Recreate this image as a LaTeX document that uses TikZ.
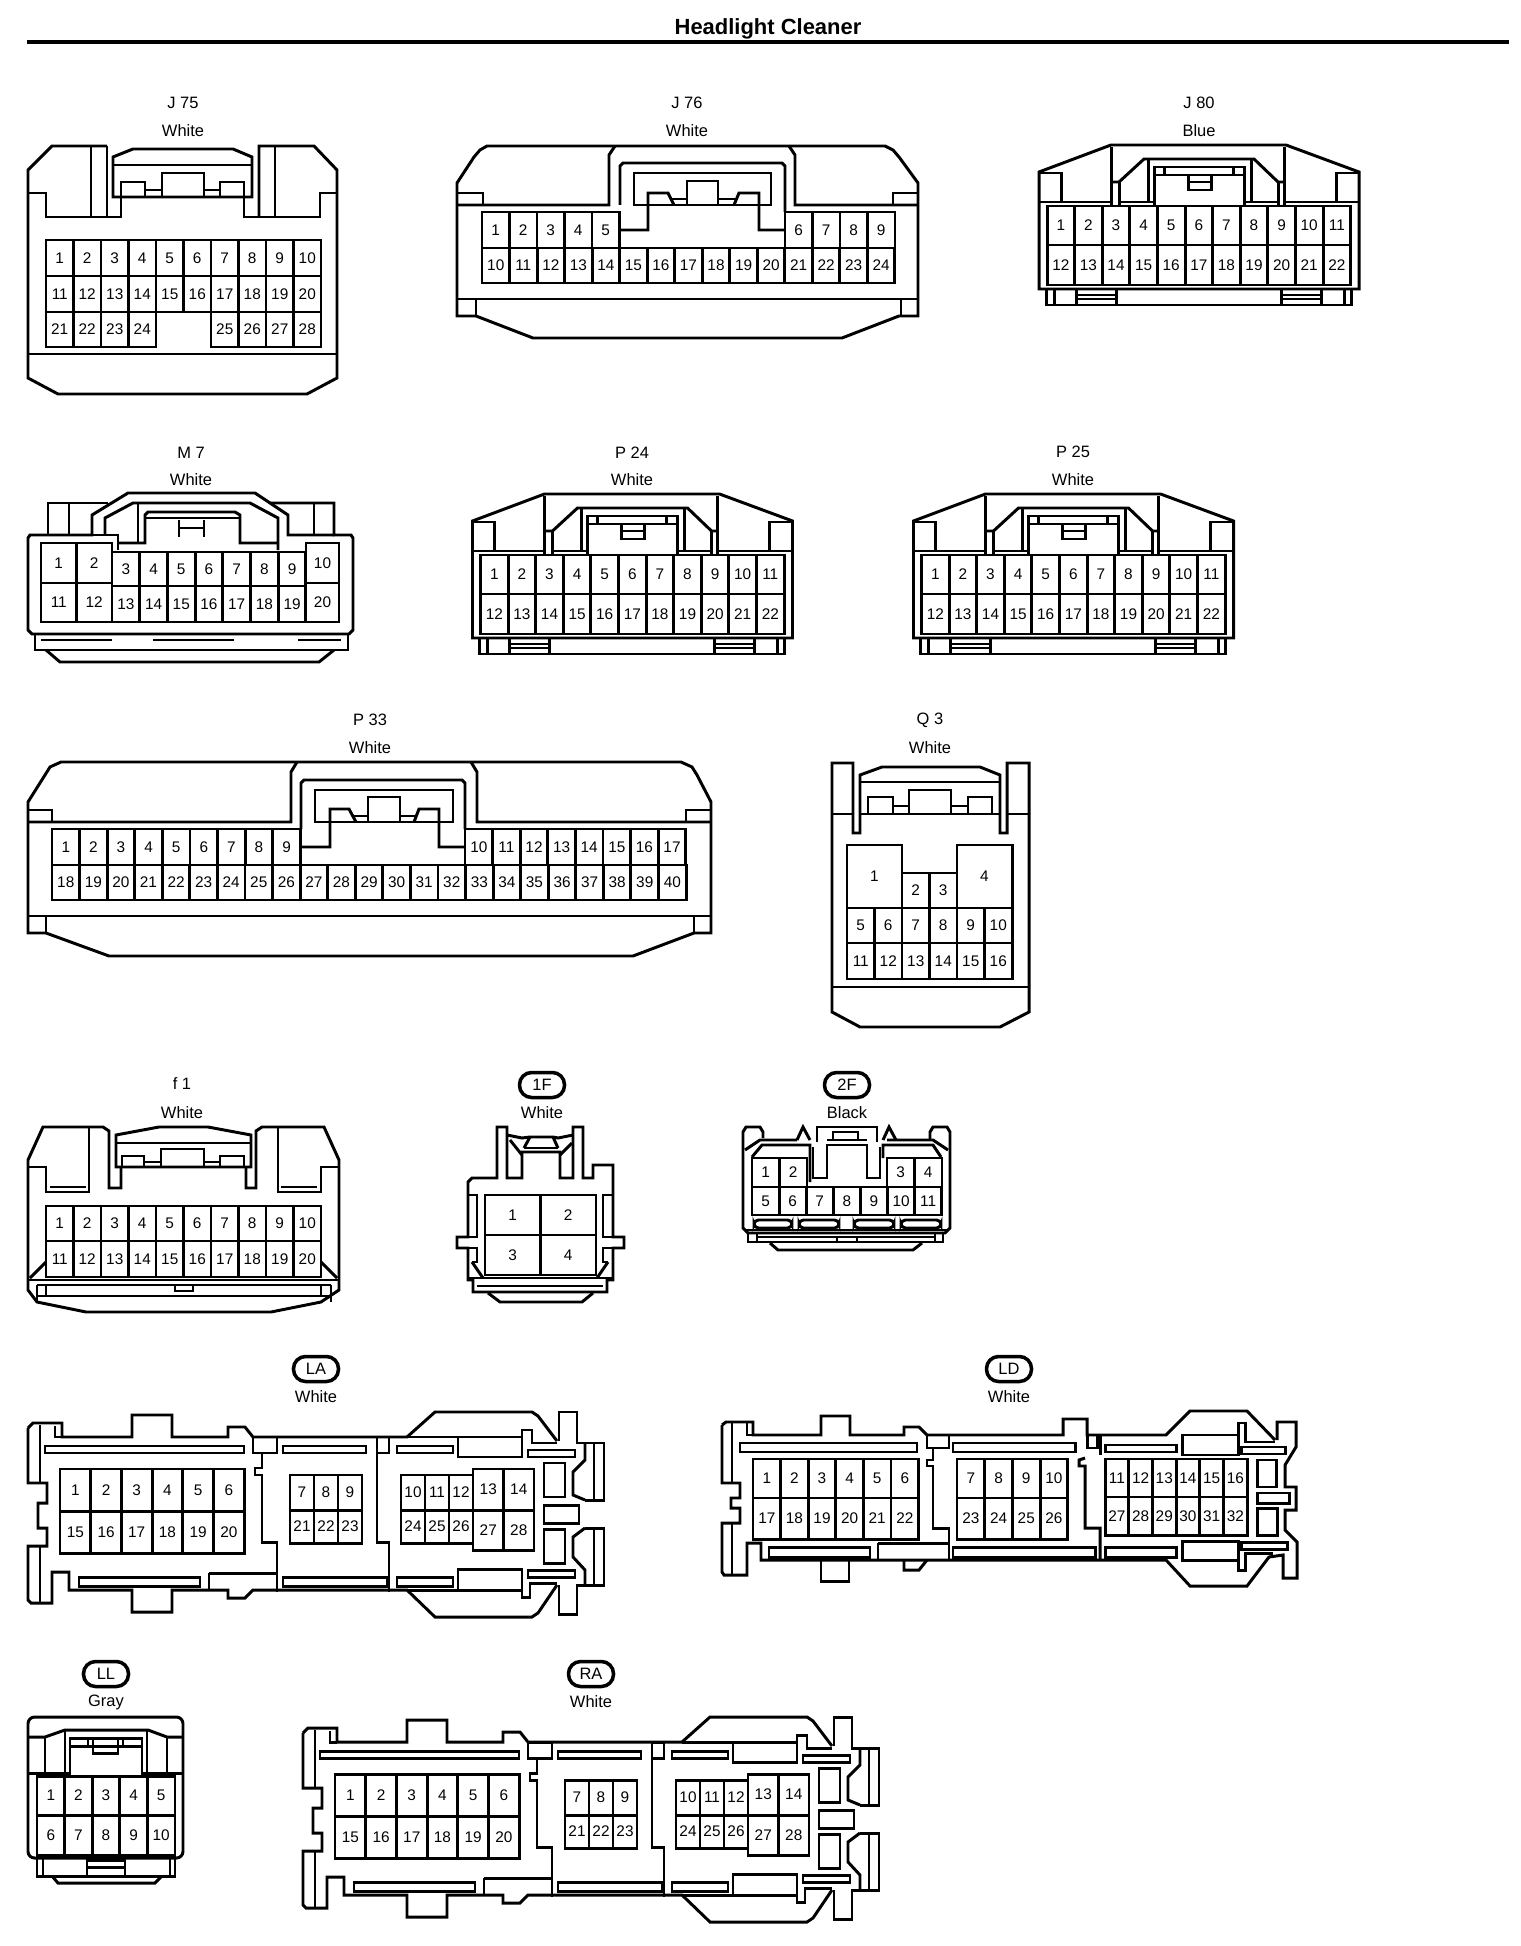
\documentclass[tikz,border=0pt]{standalone}
\usepackage{fontspec}
\setmainfont{Liberation Sans}
\tikzset{
	wall/.style={line width=1.35pt, line join=miter},
	cavity/.style 2 args={draw, line width=1.35pt, inner sep=0pt, font=\fontsize{7}{8}\selectfont,
		minimum width=#1*0.016cm, minimum height=#2*0.016cm},
	tagtext/.style={inner sep=0pt, font=\fontsize{7.5}{9}\selectfont},
	tagoval/.style={draw, line width=1.6pt, rounded corners=5.5pt, inner sep=0pt, font=\fontsize{7.5}{9}\selectfont,
		minimum width=45*0.016cm, minimum height=25*0.016cm}
}
% one row of cavities: prefix, left, top, cell width, cell height, numbers
\newcommand{\cavrow}[6]{
	\foreach \n [count=\i from 0] in {#6} {
		\node[cavity={#4}{#5}] (#1-\n) at ({#2+(\i+0.5)*#4}, {#3+#5/2}) {\n};
	}
}
% the 22 way housing, used three times
\newcommand{\housingwide}[3]{
	\begin{scope}[shift={(#2,#3)}]
		\draw[wall] (0,144) -- (0,27) -- (72,0) -- (247,0) -- (320,27) -- (320,144) -- cycle;
		\draw[wall] (7,144) -- (7,160) -- (312,160) -- (312,144);
		\draw[wall] (15,144) -- (15,160);
		\draw[wall] (305,144) -- (305,160);
		\draw[wall] (37,144) -- (37,160);
		\draw[wall] (77,144) -- (77,160);
		\draw[wall] (37,150) -- (77,150);
		\draw[wall] (37,154) -- (77,154);
		\draw[wall] (242,144) -- (242,160);
		\draw[wall] (282,144) -- (282,160);
		\draw[wall] (242,150) -- (282,150);
		\draw[wall] (242,154) -- (282,154);
		\draw[wall] (0,57) -- (72,57) -- (72,2);
		\draw[wall] (0,28) -- (22,28) -- (22,57);
		\draw[wall] (320,57) -- (245,57) -- (245,2);
		\draw[wall] (320,28) -- (297,28) -- (297,57);
		\draw[wall] (72,37) -- (80,37) -- (105,14) -- (215,14) -- (239,37) -- (245,37);
		\draw[wall] (72,57) -- (72,61);
		\draw[wall] (245,57) -- (245,61);
		\draw[wall] (80,37) -- (80,61);
		\draw[wall] (239,37) -- (239,61);
		\draw[wall] (80,57) -- (115,57);
		\draw[wall] (205,57) -- (239,57);
		\draw[wall] (109,14) -- (109,57);
		\draw[wall] (212,14) -- (212,57);
		\draw[wall] (115,61) -- (115,22) -- (205,22) -- (205,61);
		\draw[wall] (115,30) -- (205,30);
		\draw[wall] (125,22) -- (125,30);
		\draw[wall] (194,22) -- (194,30);
		\draw[wall] (149,30) -- (149,45) -- (172,45) -- (172,30);
		\draw[wall] (149,37) -- (172,37);
		\cavrow{#1}{8}{61}{27.6}{39}{1,...,11}
		\cavrow{#1}{8}{100}{27.6}{40}{12,...,22}
	\end{scope}
}
% the 28 way housing, used twice
\newcommand{\housingtee}[3]{
	\begin{scope}[shift={(#2,#3)}]
		\draw[wall] (28,1428) -- (33,1423) -- (62,1423) -- (62,1437) -- (132,1437) -- (132,1415) -- (172,1415) -- (172,1437) -- (228,1437) -- (228,1427) -- (245,1427) -- (253,1437) -- (407,1437) -- (435,1412) -- (532,1412) -- (538,1416) -- (557,1441);
		\draw[wall] (62,1437) -- (55,1437) -- (55,1426);
		\draw[wall] (28,1428) -- (28,1483) -- (47,1483) -- (47,1503) -- (38,1503) -- (38,1528) -- (47,1528) -- (47,1546) -- (28,1546) -- (28,1600) -- (31,1603) -- (52,1603) -- (52,1572) -- (69,1572) -- (69,1590) -- (132,1590) -- (132,1612) -- (172,1612) -- (172,1590) -- (228,1590) -- (228,1598) -- (245,1598) -- (253,1590) -- (407,1590) -- (435,1617) -- (532,1617) -- (538,1613) -- (557,1585);
		\draw[wall] (40,1425) -- (40,1483);
		\draw[wall] (40,1546) -- (40,1603);
		\draw[wall] (407,1437) -- (522,1437);
		\draw[wall] (407,1590) -- (522,1590);
		\draw[wall] (559,1585) -- (559,1614) -- (577,1614) -- (577,1585) -- (604,1585) -- (604,1528) -- (585,1528);
		\draw[wall] (559,1441) -- (559,1412) -- (577,1412) -- (577,1443) -- (604,1443) -- (604,1500) -- (585,1500);
		\draw[wall] (585,1500) -- (573,1495) -- (573,1472) -- (585,1460) -- (585,1443);
		\draw[wall] (585,1528) -- (573,1537) -- (573,1557) -- (585,1570) -- (585,1585);
		\draw[wall] (594,1443) -- (594,1500);
		\draw[wall] (594,1528) -- (594,1585);
		\draw[wall] (544,1463) rectangle (565,1497);
		\draw[wall] (544,1505) rectangle (579,1523);
		\draw[wall] (544,1529) rectangle (565,1563);
		\draw[wall] (45,1446) rectangle (244,1453);
		\draw[wall] (283,1446) rectangle (366,1453);
		\draw[wall] (397,1446) rectangle (453,1453);
		\draw[wall] (528,1450) rectangle (575,1457);
		\draw[wall] (79,1577) rectangle (200,1586);
		\draw[wall] (283,1577) rectangle (387,1586);
		\draw[wall] (397,1577) rectangle (453,1586);
		\draw[wall] (528,1570) rectangle (575,1577);
		\draw[wall] (458,1437) rectangle (522,1457);
		\draw[wall] (458,1569) rectangle (522,1590);
		\draw[wall] (522,1437) -- (522,1430) -- (532,1430) -- (532,1443) -- (557,1443);
		\draw[wall] (522,1590) -- (522,1597) -- (530,1597) -- (530,1583) -- (557,1583);
		\draw[wall] (253,1437) rectangle (277,1453);
		\draw[wall] (262,1453) -- (262,1468) -- (255,1468) -- (255,1475) -- (262,1475) -- (262,1542) -- (277,1542) -- (277,1592);
		\draw[wall] (377,1437) rectangle (389,1453);
		\draw[wall] (377,1453) -- (377,1542) -- (389,1542) -- (389,1592);
		\draw[wall] (209,1573) -- (277,1573);
		\draw[wall] (209,1573) -- (209,1590);
		\cavrow{#1}{60}{1469}{30.7}{42}{1,...,6}
		\cavrow{#1}{60}{1511}{30.7}{42}{15,...,20}
		\cavrow{#1}{290}{1475}{24}{35}{7,8,9}
		\cavrow{#1}{290}{1510}{24}{33}{21,22,23}
		\cavrow{#1}{401}{1475}{24}{35}{10,11,12}
		\cavrow{#1}{401}{1510}{24}{33}{24,25,26}
		\cavrow{#1}{473}{1469}{30.5}{41}{13,14}
		\cavrow{#1}{473}{1510}{30.5}{40}{27,28}
	\end{scope}
}
\begin{document}
\begin{tikzpicture}[x=0.016cm, y=-0.016cm]
	\useasboundingbox (0,0) rectangle (1520,1946);

	\node[inner sep=0pt, font=\fontsize{10}{12}\selectfont\bfseries] (sheettitle) at (768,29) {Headlight Cleaner};
	\draw[line width=2.2pt] (27,42) -- (1509,42);

	% J 75
	\node[tagtext] (j75id) at (183,103) {J 75};
	\node[tagtext] (j75col) at (183,131) {White};
	\draw[wall] (107,146) -- (52,146) -- (28,170) -- (28,378) -- (58,394) -- (307,394) -- (337,378) -- (337,170) -- (314,146) -- (259,146) -- (259,217);
	\draw[wall] (28,193) -- (46,193) -- (46,217) -- (121,217) -- (121,197);
	\draw[wall] (91,146) -- (91,217);
	\draw[wall] (107,146) -- (107,217);
	\draw[wall] (337,193) -- (320,193) -- (320,217) -- (244,217) -- (244,197);
	\draw[wall] (275,146) -- (275,217);
	\draw[wall] (113,197) -- (113,157) -- (133,149) -- (233,149) -- (252,157) -- (252,197) -- cycle;
	\draw[wall] (113,165) -- (252,165);
	\draw[wall] (121,197) -- (121,182) -- (145,182) -- (145,197);
	\draw[wall] (162,197) -- (162,173) -- (204,173) -- (204,197);
	\draw[wall] (220,197) -- (220,182) -- (244,182) -- (244,197);
	\draw[wall] (145,190) -- (162,190);
	\draw[wall] (204,190) -- (220,190);
	\draw[wall] (28,354) -- (337,354);
	\cavrow{J75}{46}{240}{27.5}{36}{1,...,10}
	\cavrow{J75}{46}{276}{27.5}{36}{11,...,20}
	\cavrow{J75}{46}{312}{27.5}{35}{21,...,24}
	\cavrow{J75}{211}{312}{27.5}{35}{25,...,28}

	% J 76
	\node[tagtext] (j76id) at (687,103) {J 76};
	\node[tagtext] (j76col) at (687,131) {White};
	\draw[wall] (457,316) -- (457,183) -- (474,157) -- (480,150) -- (487,146) -- (885,146) -- (893,150) -- (899,157) -- (918,183) -- (918,316) -- (899,316) -- (842,338) -- (533,338) -- (476,316) -- cycle;
	\draw[wall] (457,205) -- (609,205) -- (609,155) -- (615,146);
	\draw[wall] (918,205) -- (795,205) -- (795,155) -- (789,146);
	\draw[wall] (620,205) -- (620,166) -- (623,163) -- (782,163) -- (785,166) -- (785,212);
	\draw[wall] (634,173) rectangle (771,205);
	\draw[wall] (620,230) -- (648,230) -- (648,193) -- (668,193) -- (674,205);
	\draw[wall] (785,230) -- (759,230) -- (759,193) -- (739,193) -- (734,205);
	\draw[wall] (687,205) -- (687,181) -- (718,181) -- (718,205);
	\draw[wall] (671,199) -- (687,199);
	\draw[wall] (718,199) -- (737,199);
	\draw[wall] (457,193) -- (483,193) -- (483,205);
	\draw[wall] (918,193) -- (893,193) -- (893,205);
	\draw[wall] (457,299) -- (918,299);
	\draw[wall] (476,299) -- (476,316);
	\draw[wall] (901,299) -- (901,316);
	\cavrow{J76}{482}{212}{27.5}{36}{1,...,5}
	\cavrow{J76}{785}{212}{27.5}{36}{6,...,9}
	\cavrow{J76}{482}{248}{27.53}{35}{10,...,24}

	% J 80
	\node[tagtext] (j80id) at (1199,103) {J 80};
	\node[tagtext] (j80col) at (1199,131) {Blue};
	\housingwide{J80}{1039}{145}

	% M 7
	\node[tagtext] (m7id) at (191,453) {M 7};
	\node[tagtext] (m7col) at (191,480) {White};
	\draw[wall] (48,535) -- (30,535) -- (28,538) -- (28,630) -- (32,634) -- (349,634) -- (353,630) -- (353,538) -- (351,535) -- (334,535) -- (334,503) -- (270,503);
	\draw[wall] (48,535) -- (48,503) -- (108,503);
	\draw[wall] (69,503) -- (69,535);
	\draw[wall] (314,503) -- (314,535);
	\draw[wall] (48,535) -- (92,535) -- (92,515) -- (128,493) -- (255,493) -- (288,515) -- (288,535) -- (334,535);
	\draw[wall] (105,535) -- (105,518) -- (133,503) -- (250,503) -- (278,518) -- (278,550);
	\draw[wall] (92,535) -- (118,535) -- (118,550);
	\draw[wall] (138,503) -- (138,543);
	\draw[wall] (118,543) -- (145,543) -- (145,515) -- (148,512) -- (235,512) -- (240,515) -- (240,543) -- (278,543);
	\draw[wall] (145,518) -- (240,518);
	\draw[wall] (179,537) -- (179,520);
	\draw[wall] (204,537) -- (204,520);
	\draw[wall] (179,528) -- (204,528);
	\draw[wall] (35,634) -- (35,650) -- (348,650) -- (348,634);
	\draw[wall] (41,640) -- (112,640);
	\draw[wall] (153,640) -- (234,640);
	\draw[wall] (298,640) -- (341,640);
	\draw[wall] (46,650) -- (60,662) -- (319,662) -- (334,650);
	\cavrow{M7}{41}{543}{35.5}{40}{1,2}
	\cavrow{M7}{41}{583}{35.5}{39}{11,12}
	\cavrow{M7}{112}{552}{27.7}{34}{3,...,9}
	\cavrow{M7}{112}{586}{27.7}{36}{13,...,19}
	\cavrow{M7}{306}{543}{33}{40}{10}
	\cavrow{M7}{306}{583}{33}{39}{20}

	% P 24, P 25
	\node[tagtext] (p24id) at (632,453) {P 24};
	\node[tagtext] (p24col) at (632,480) {White};
	\housingwide{P24}{472.5}{494}
	\node[tagtext] (p25id) at (1073,452) {P 25};
	\node[tagtext] (p25col) at (1073,480) {White};
	\housingwide{P25}{913.5}{494}

	% P 33
	\node[tagtext] (p33id) at (370,720) {P 33};
	\node[tagtext] (p33col) at (370,748) {White};
	\draw[wall] (28,802) -- (45,775) -- (50,767) -- (61,762) -- (681,762) -- (692,767) -- (697,775) -- (711,802) -- (711,933) -- (694,933) -- (633,956) -- (109,956) -- (46,933) -- (28,933) -- cycle;
	\draw[wall] (28,822) -- (291,822) -- (291,772) -- (297,762);
	\draw[wall] (711,822) -- (477,822) -- (477,772) -- (471,762);
	\draw[wall] (28,810) -- (52,810) -- (52,822);
	\draw[wall] (711,810) -- (686,810) -- (686,822);
	\draw[wall] (28,916) -- (711,916);
	\draw[wall] (46,916) -- (46,933);
	\draw[wall] (694,916) -- (694,933);
	\draw[wall] (301,829) -- (301,783) -- (304,780) -- (462,780) -- (465,783) -- (465,829);
	\draw[wall] (315,790) rectangle (453,822);
	\draw[wall] (368,822) -- (368,797) -- (400,797) -- (400,822);
	\draw[wall] (301,847) -- (330,847) -- (330,809) -- (349,809) -- (356,822);
	\draw[wall] (465,847) -- (439,847) -- (439,809) -- (419,809) -- (414,822);
	\draw[wall] (352,816) -- (368,816);
	\draw[wall] (400,816) -- (416,816);
	\cavrow{P33}{52}{829}{27.6}{36}{1,...,9}
	\cavrow{P33}{465}{829}{27.6}{36}{10,...,17}
	\cavrow{P33}{52}{865}{27.57}{35}{18,...,40}

	% Q 3
	\node[tagtext] (q3id) at (930,720) {Q 3};
	\node[tagtext] (q3col) at (930,748) {White};
	\draw[wall] (832,1012) -- (832,763) -- (853,763) -- (853,833) -- (860,833) -- (860,775) -- (882,767) -- (980,767) -- (1000,775) -- (1000,833) -- (1007,833) -- (1007,763) -- (1029,763) -- (1029,1012) -- (1000,1027) -- (860,1027) -- cycle;
	\draw[wall] (832,814) -- (853,814);
	\draw[wall] (860,814) -- (1000,814);
	\draw[wall] (1007,814) -- (1029,814);
	\draw[wall] (860,782) -- (1000,782);
	\draw[wall] (868,814) -- (868,797) -- (893,797) -- (893,814);
	\draw[wall] (909,814) -- (909,790) -- (951,790) -- (951,814);
	\draw[wall] (968,814) -- (968,797) -- (992,797) -- (992,814);
	\draw[wall] (893,806) -- (909,806);
	\draw[wall] (951,806) -- (968,806);
	\draw[wall] (832,987) -- (1029,987);
	\cavrow{Q3}{847}{845}{55}{63}{1}
	\cavrow{Q3}{902}{873}{27.5}{35}{2,3}
	\cavrow{Q3}{957}{845}{55}{63}{4}
	\cavrow{Q3}{847}{908}{27.5}{35}{5,...,10}
	\cavrow{Q3}{847}{943}{27.5}{36}{11,...,16}

	% f 1
	\node[tagtext] (f1id) at (182,1084) {f 1};
	\node[tagtext] (f1col) at (182,1113) {White};
	\draw[wall] (89,1127) -- (43,1127) -- (28,1160) -- (28,1290) -- (37,1302) -- (86,1312) -- (271,1312) -- (321,1302) -- (339,1290) -- (339,1160) -- (324,1127) -- (262,1127) -- (256,1131) -- (256,1188) -- (246,1188) -- (246,1167);
	\draw[wall] (89,1127) -- (103,1127) -- (109,1131) -- (109,1188) -- (121,1188) -- (121,1167);
	\draw[wall] (28,1167) -- (46,1167) -- (46,1192) -- (89,1192) -- (89,1127);
	\draw[wall] (339,1167) -- (321,1167) -- (321,1192) -- (278,1192) -- (278,1127);
	\draw[wall] (50,1187) -- (86,1187);
	\draw[wall] (281,1187) -- (317,1187);
	\draw[wall] (116,1167) -- (116,1135) -- (159,1127) -- (208,1127) -- (251,1135) -- (251,1167) -- cycle;
	\draw[wall] (116,1143) -- (251,1143);
	\draw[wall] (122,1167) -- (122,1156) -- (144,1156) -- (144,1167);
	\draw[wall] (161,1167) -- (161,1149) -- (204,1149) -- (204,1167);
	\draw[wall] (220,1167) -- (220,1156) -- (244,1156) -- (244,1167);
	\draw[wall] (144,1162) -- (161,1162);
	\draw[wall] (204,1162) -- (220,1162);
	\draw[wall] (28,1280) -- (339,1280);
	\draw[wall] (37,1285) -- (331,1285);
	\draw[wall] (37,1296) -- (331,1296);
	\draw[wall] (37,1285) -- (37,1302);
	\draw[wall] (46,1285) -- (46,1296);
	\draw[wall] (321,1285) -- (321,1296);
	\draw[wall] (331,1285) -- (331,1302);
	\draw[wall] (30,1278) -- (46,1262);
	\draw[wall] (337,1278) -- (321,1262);
	\draw[wall] (175,1285) -- (175,1291) -- (193,1291) -- (193,1285);
	\cavrow{f1}{46}{1206}{27.5}{35}{1,...,10}
	\cavrow{f1}{46}{1241}{27.5}{36}{11,...,20}

	% 1F
	\node[tagoval] (oneFid) at (542,1085) {1F};
	\node[tagtext] (oneFcol) at (542,1113) {White};
	\draw[wall] (497,1178) -- (472,1178) -- (468,1182) -- (468,1237) -- (457,1237) -- (457,1248) -- (468,1248) -- (468,1280) -- (473,1280) -- (473,1292) -- (607,1292) -- (607,1280) -- (613,1280) -- (613,1248) -- (624,1248) -- (624,1237) -- (613,1237) -- (613,1165) -- (593,1165) -- (593,1178) -- (583,1178) -- (583,1127) -- (573,1127) -- (573,1178) -- (560,1178) -- (560,1152) -- (522,1152) -- (522,1178) -- (507,1178) -- (507,1127) -- (497,1127) -- cycle;
	\draw[wall] (507,1135) -- (522,1138) -- (530,1137) -- (553,1137) -- (558,1138) -- (573,1135);
	\draw[wall] (524,1148) -- (558,1148);
	\draw[wall] (530,1137) -- (524,1148);
	\draw[wall] (553,1137) -- (558,1148);
	\draw[wall] (510,1140) -- (522,1155);
	\draw[wall] (572,1143) -- (560,1155);
	\draw[wall] (468,1195) -- (477,1195) -- (477,1237) -- (468,1237);
	\draw[wall] (613,1195) -- (603,1195) -- (603,1237) -- (613,1237);
	\draw[wall] (468,1248) -- (477,1248) -- (477,1262) -- (472,1262);
	\draw[wall] (613,1248) -- (603,1248) -- (603,1262) -- (608,1262);
	\draw[wall] (472,1262) -- (483,1278);
	\draw[wall] (608,1262) -- (597,1278);
	\draw[wall] (468,1278) -- (613,1278);
	\draw[wall] (477,1286) -- (603,1286);
	\draw[wall] (488,1293) -- (500,1302) -- (582,1302) -- (593,1293);
	\cavrow{oneF}{485}{1195}{55.5}{40}{1,2}
	\cavrow{oneF}{485}{1235}{55.5}{40}{3,4}

	% 2F
	\node[tagoval] (twoFid) at (847,1085) {2F};
	\node[tagtext] (twoFcol) at (847,1113) {Black};
	\draw[wall] (763,1138) -- (763,1132) -- (760,1127) -- (746,1127) -- (743,1132) -- (743,1228) -- (748,1233) -- (945,1233) -- (950,1228) -- (950,1132) -- (947,1127) -- (933,1127) -- (930,1132) -- (930,1140);
	\draw[wall] (745,1150) -- (760,1140) -- (797,1140);
	\draw[wall] (752,1157) -- (762,1145) -- (810,1145) -- (810,1182);
	\draw[wall] (948,1150) -- (933,1140) -- (887,1140);
	\draw[wall] (941,1157) -- (933,1145) -- (883,1145) -- (883,1158);
	\draw[wall] (797,1140) -- (803,1127) -- (810,1140);
	\draw[wall] (883,1140) -- (889,1127) -- (896,1140);
	\draw[wall] (817,1142) -- (817,1127) -- (877,1127) -- (877,1142);
	\draw[wall] (833,1140) -- (833,1132) -- (858,1132) -- (858,1140);
	\draw[wall] (827,1140) -- (867,1140);
	\draw[wall] (813,1147) -- (813,1178) -- (827,1178) -- (827,1145) -- (867,1145) -- (867,1178) -- (880,1178) -- (880,1147);
	\draw[wall, rounded corners=2pt] (754,1220) rectangle (792,1228);
	\draw[wall, rounded corners=2pt] (799,1220) rectangle (839,1228);
	\draw[wall, rounded corners=2pt] (854,1220) rectangle (894,1228);
	\draw[wall, rounded corners=2pt] (901,1220) rectangle (941,1228);
	\draw[wall] (746,1230) -- (947,1230);
	\draw[wall] (748,1233) -- (748,1242) -- (943,1242) -- (943,1233);
	\draw[wall] (758,1237) -- (935,1237);
	\draw[wall] (757,1233) -- (757,1242);
	\draw[wall] (935,1233) -- (935,1242);
	\draw[wall] (837,1237) -- (837,1242);
	\draw[wall] (857,1237) -- (857,1242);
	\draw[wall] (770,1243) -- (778,1250) -- (913,1250) -- (922,1243);
	\cavrow{twoF}{752}{1158}{27.5}{29}{1,2}
	\cavrow{twoF}{887}{1158}{27.5}{29}{3,4}
	\cavrow{twoF}{752}{1187}{27.1}{28}{5,...,11}

	% LA
	\node[tagoval] (laid) at (316,1369) {LA};
	\node[tagtext] (lacol) at (316,1397) {White};
	\housingtee{LA}{0}{0}

	% LD
	\node[tagoval] (ldid) at (1009,1369) {LD};
	\node[tagtext] (ldcol) at (1009,1397) {White};
	\draw[wall] (722,1425) -- (726,1422) -- (753,1422) -- (753,1435) -- (821,1435) -- (821,1416) -- (850,1416) -- (850,1435) -- (904,1435) -- (904,1427) -- (919,1427) -- (927,1435) -- (1063,1435) -- (1063,1419) -- (1087,1419) -- (1087,1435) -- (1166,1435) -- (1190,1411) -- (1247,1411) -- (1275,1440);
	\draw[wall] (1277,1440) -- (1277,1422) -- (1296,1422) -- (1296,1447) -- (1285,1465) -- (1285,1487) -- (1296,1487) -- (1296,1510) -- (1285,1510) -- (1285,1530) -- (1297,1542) -- (1297,1578) -- (1283,1578) -- (1283,1555) -- (1269,1557) -- (1247,1586) -- (1190,1586) -- (1166,1560) -- (761,1560) -- (761,1543) -- (747,1543) -- (747,1575) -- (724,1575) -- (722,1572) -- (722,1523) -- (740,1523) -- (740,1508) -- (731,1508) -- (731,1498) -- (740,1498) -- (740,1483) -- (722,1483) -- (722,1425);
	\draw[wall] (732,1422) -- (732,1483);
	\draw[wall] (732,1523) -- (732,1575);
	\draw[wall] (747,1422) -- (747,1435) -- (753,1435);
	\draw[wall] (821,1560) -- (821,1581) -- (849,1581) -- (849,1560);
	\draw[wall] (904,1560) -- (904,1570) -- (919,1570) -- (927,1560);
	\draw[wall] (740,1443) rectangle (917,1452);
	\draw[wall] (953,1443) rectangle (1075,1452);
	\draw[wall] (1105,1445) rectangle (1176,1452);
	\draw[wall] (1241,1447) rectangle (1285,1454);
	\draw[wall] (769,1547) rectangle (870,1557);
	\draw[wall] (953,1547) rectangle (1095,1557);
	\draw[wall] (1105,1547) rectangle (1176,1557);
	\draw[wall] (1241,1542) rectangle (1287,1549);
	\draw[wall] (1182,1435) rectangle (1238,1455);
	\draw[wall] (1182,1541) rectangle (1238,1560);
	\draw[wall] (1238,1435) -- (1238,1423) -- (1245,1423) -- (1245,1442) -- (1275,1442);
	\draw[wall] (1238,1560) -- (1238,1570) -- (1245,1570) -- (1245,1553) -- (1273,1553);
	\draw[wall] (1257,1460) rectangle (1276,1487);
	\draw[wall] (1257,1493) rectangle (1289,1503);
	\draw[wall] (1257,1508) rectangle (1277,1535);
	\draw[wall] (927,1435) rectangle (949,1448);
	\draw[wall] (933,1448) -- (933,1460) -- (927,1460) -- (927,1466) -- (933,1466) -- (933,1528) -- (949,1528) -- (949,1560);
	\draw[wall] (878,1543) -- (949,1543);
	\draw[wall] (878,1543) -- (878,1560);
	\draw[wall] (1087,1435) rectangle (1097,1448);
	\draw[wall] (1085,1458) -- (1079,1460) -- (1079,1466) -- (1085,1466) -- (1085,1528) -- (1100,1528) -- (1100,1560);
	\draw[wall] (1100,1435) -- (1100,1455);
	\cavrow{LD}{753}{1459}{27.6}{39}{1,...,6}
	\cavrow{LD}{753}{1498}{27.6}{41}{17,...,22}
	\cavrow{LD}{957}{1459}{27.7}{39}{7,...,10}
	\cavrow{LD}{957}{1498}{27.7}{41}{23,...,26}
	\cavrow{LD}{1105}{1459}{23.7}{38}{11,...,16}
	\cavrow{LD}{1105}{1497}{23.7}{38}{27,...,32}

	% LL
	\node[tagoval] (llid) at (106,1674) {LL};
	\node[tagtext] (llcol) at (106,1702) {Gray};
	\draw[wall, rounded corners=3pt] (28,1858) -- (28,1717) -- (183,1717) -- (183,1858) -- cycle;
	\draw[wall] (28,1737) -- (45,1737) -- (65,1730) -- (148,1730) -- (167,1737) -- (183,1737);
	\draw[wall] (45,1737) -- (45,1773);
	\draw[wall] (65,1730) -- (65,1773);
	\draw[wall] (167,1737) -- (167,1773);
	\draw[wall] (147,1730) -- (147,1773);
	\draw[wall] (28,1773) -- (70,1773);
	\draw[wall] (142,1773) -- (183,1773);
	\draw[wall] (70,1776) -- (70,1738) -- (142,1738) -- (142,1776);
	\draw[wall] (70,1746) -- (142,1746);
	\draw[wall] (88,1738) -- (88,1746);
	\draw[wall] (123,1738) -- (123,1746);
	\draw[wall] (93,1738) -- (93,1753) -- (118,1753) -- (118,1738);
	\draw[wall] (37,1858) -- (37,1876) -- (175,1876) -- (175,1858);
	\draw[wall] (43,1858) -- (43,1876);
	\draw[wall] (170,1858) -- (170,1876);
	\draw[wall] (87,1876) -- (87,1860) -- (125,1860) -- (125,1876);
	\draw[wall] (87,1867) -- (125,1867);
	\draw[wall] (52,1876) -- (58,1883) -- (155,1883) -- (162,1876);
	\cavrow{LL}{37}{1776}{27.6}{39}{1,...,5}
	\cavrow{LL}{37}{1815}{27.6}{40}{6,...,10}

	% RA
	\node[tagoval] (raid) at (591,1674) {RA};
	\node[tagtext] (racol) at (591,1702) {White};
	\housingtee{RA}{275}{305}
\end{tikzpicture}
\end{document}
